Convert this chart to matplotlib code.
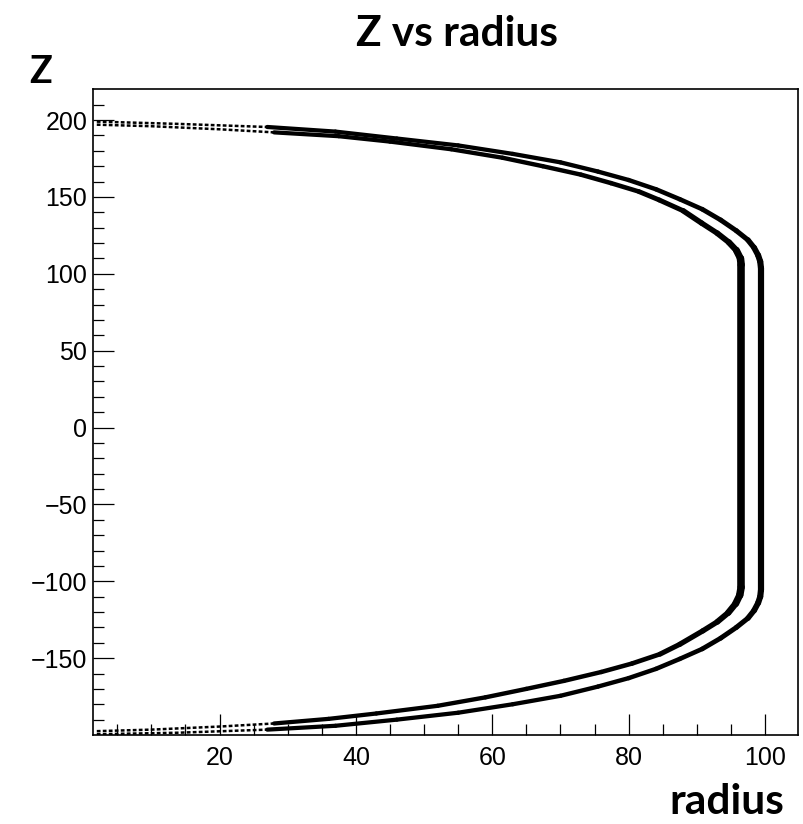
"""Z vs radius hit map, redrawn in ROOT-like style."""

import numpy as np
import matplotlib
matplotlib.use("Agg")
import matplotlib.pyplot as plt
from matplotlib.collections import LineCollection

# band centres (radius, Z), from the axis end inwards
inner_r_top = [2, 10, 20, 28, 37.5, 45, 54, 61.5, 67.4, 73, 77.4, 81.5, 84.5, 88, 90.7, 93, 94.7, 95.8, 96.4, 96.5]
inner_z_top = [197, 196, 194, 192, 189.5, 186, 181, 175.5, 170, 164.5, 159, 153.5, 148, 141, 133, 126.4, 120.5, 115.3, 110, 106]
inner_r_bot = [2, 10, 20, 28, 36, 43, 52, 59, 65, 70.5, 76, 80.5, 84.6, 87.5, 90.9, 93, 94.6, 95.7, 96.3, 96.5]
inner_z_bot = [-197.5, -196.5, -194.5, -192.5, -189.5, -186, -181, -175.5, -170, -164.8, -159, -153.5, -147.4, -141, -132.2, -126.4, -120.5, -114.5, -109, -104]

outer_r_top = [2, 14, 27, 37, 46, 55, 63, 70, 75.5, 80, 84, 87.5, 90.8, 93.5, 95.8, 97.5, 98.4, 99.0, 99.3, 99.4]
outer_z_top = [199, 197.5, 195.5, 192.5, 188, 183.5, 178, 172.5, 166.5, 161, 155, 148.5, 142, 135, 128, 122, 117, 112, 108, 104]
outer_r_bot = [2, 14, 27, 37, 46, 55, 63, 70, 75.5, 80, 84, 87.5, 90.8, 93.5, 95.8, 97.5, 98.4, 99.0, 99.3, 99.4]
outer_z_bot = [-199.5, -198.5, -196.5, -194, -190, -185.5, -180, -174.5, -168.5, -163, -157, -150.5, -144, -137, -130, -124, -119, -114, -110, -106]

x_ticks = [20, 40, 60, 80, 100]
y_ticks = [-150, -100, -50, 0, 50, 100, 150, 200]


def draw_band(ax, r_top, z_top, r_bot, z_bot, w_vert, w_flat=4.2):
    """Thick band through the points; pixel thickness depends on direction."""
    r = np.array(r_top + r_bot[::-1], dtype=float)
    z = np.array(z_top + z_bot[::-1], dtype=float)
    pts = ax.transData.transform(np.column_stack([r, z]))
    segs, widths = [], []
    for i in range(len(r) - 1):
        if max(r[i], r[i + 1]) <= 28:
            continue
        dx, dy = pts[i + 1] - pts[i]
        L = np.hypot(dx, dy)
        t = np.hypot(w_vert * dy, w_flat * dx) / L
        segs.append([(r[i], z[i]), (r[i + 1], z[i + 1])])
        widths.append(t * 0.72)
    ax.add_collection(LineCollection(segs, linewidths=widths, colors="black",
                                     capstyle="round", joinstyle="round"))
    # sparse tails close to the axis
    for rr, zz in [(r_top, z_top), (r_bot, z_bot)]:
        rr = np.array(rr, dtype=float)
        zz = np.array(zz, dtype=float)
        m = rr <= 28
        ax.plot(rr[m], zz[m], color="black", lw=1.8, ls=(0, (1.5, 0.9)))


fig = plt.figure(figsize=(8.04, 8.24), dpi=100)
ax = fig.add_axes([0.1153, 0.108, 0.8769, 0.7836])
ax.set_xlim(1.4, 104.8)
ax.set_ylim(-200, 220)

draw_band(ax, inner_r_top, inner_z_top, inner_r_bot, inner_z_bot, w_vert=7.6)
draw_band(ax, outer_r_top, outer_z_top, outer_r_bot, outer_z_bot, w_vert=6.2)

ax.set_xticks(x_ticks)
ax.set_yticks(y_ticks)
ax.set_xticks(np.arange(5, 105, 5), minor=True)
ax.set_yticks(np.arange(-190, 220, 10), minor=True)
for lab in ax.get_xticklabels() + ax.get_yticklabels():
    lab.set_family("Liberation Sans")
    lab.set_fontsize(18)
ax.tick_params(which="major", direction="in", length=15, width=0.9, pad=4,
               top=False, right=False)
ax.tick_params(which="minor", direction="in", length=8, width=0.9,
               top=False, right=False)
ax.tick_params(axis="x", pad=8)
for sp in ax.spines.values():
    sp.set_linewidth(1.2)

fig.text(0.569, 0.944, "Z vs radius", family="Lato", weight="bold",
         fontsize=30.5, ha="center", va="baseline")
fig.text(0.037, 0.899, "Z", family="Lato", weight="bold",
         fontsize=27, ha="left", va="baseline")
fig.text(0.975, 0.012, "radius", family="Lato", weight="bold",
         fontsize=30.5, ha="right", va="baseline")

fig.savefig("out.png", dpi=100)
plt.close(fig)
